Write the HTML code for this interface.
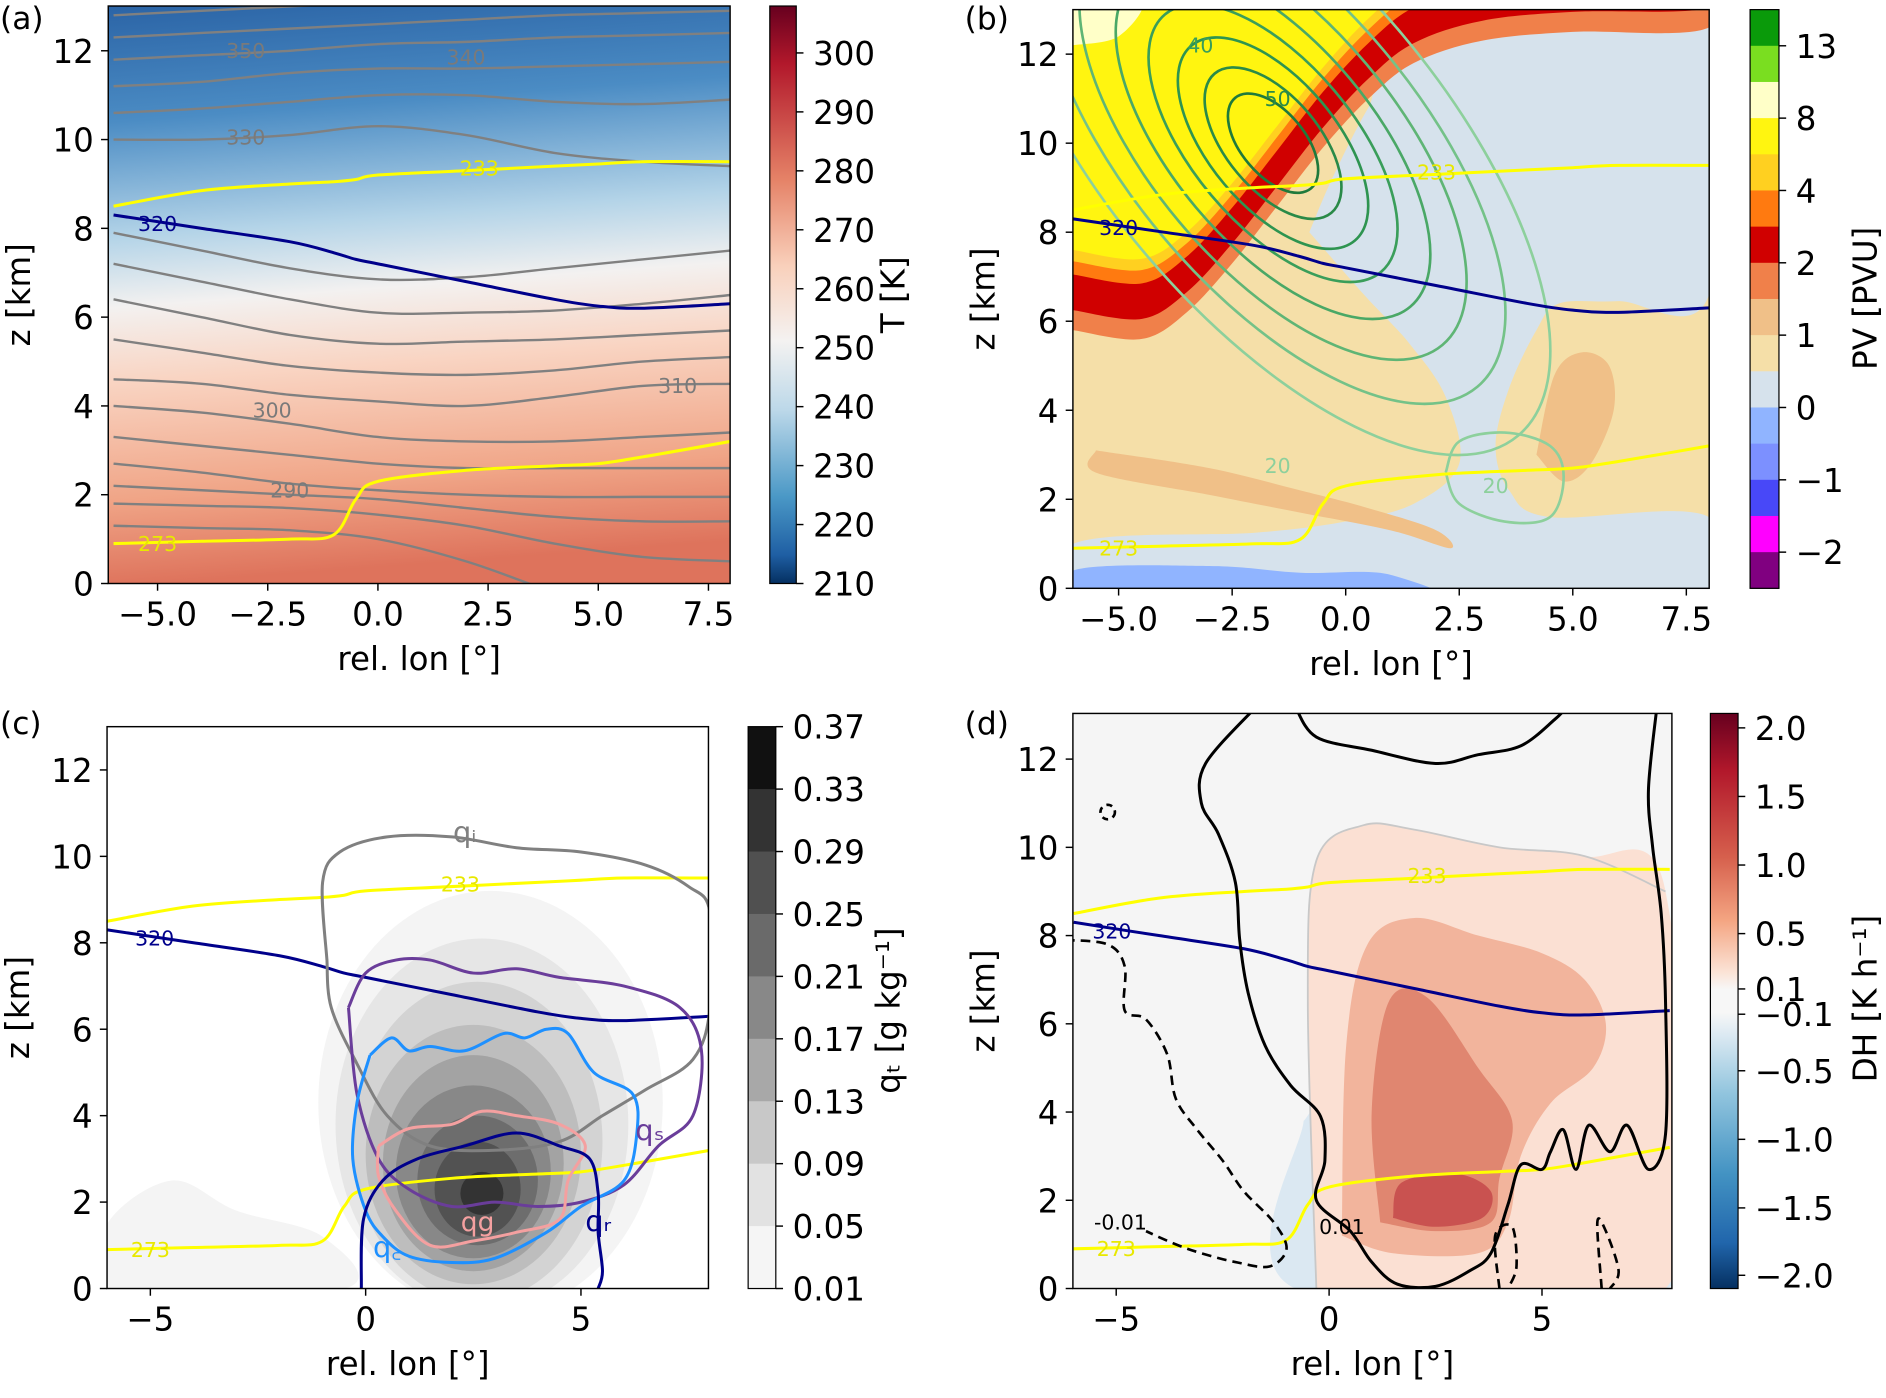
<!DOCTYPE html>
<html><head><meta charset="utf-8">
<style>
html,body{margin:0;padding:0;background:#fff;}
svg{display:block;font-family:"DejaVu Sans","Liberation Sans",sans-serif;}
</style></head>
<body>
<svg id="fig" xmlns="http://www.w3.org/2000/svg" width="1886" height="1398" viewBox="0 0 1568 1162" preserveAspectRatio="none">
<defs>
<linearGradient id="gA" x1="0" y1="0" x2="0.08" y2="1">
<stop offset="0" stop-color="#2b64a6"/><stop offset="0.2" stop-color="#4b8cc4"/><stop offset="0.4" stop-color="#b4d4e8"/><stop offset="0.52" stop-color="#f3f1f0"/><stop offset="0.65" stop-color="#f9d4c2"/><stop offset="0.85" stop-color="#f0a587"/><stop offset="1" stop-color="#de735c"/>
</linearGradient>
<linearGradient id="cbA" x1="0" y1="0" x2="0" y2="1">
<stop offset="0" stop-color="#67001f"/><stop offset="0.1" stop-color="#b2182b"/><stop offset="0.3" stop-color="#e58267"/><stop offset="0.45" stop-color="#f9d0bb"/><stop offset="0.58" stop-color="#f4f2f1"/><stop offset="0.7" stop-color="#bcd8e9"/><stop offset="0.85" stop-color="#4a98c6"/><stop offset="0.95" stop-color="#1f5fa4"/><stop offset="1" stop-color="#053061"/>
</linearGradient>
<linearGradient id="cbD" x1="0" y1="0" x2="0" y2="1">
<stop offset="0" stop-color="#67001f"/><stop offset="0.1" stop-color="#b2182b"/><stop offset="0.25" stop-color="#d6604d"/><stop offset="0.36" stop-color="#f4a582"/><stop offset="0.45" stop-color="#fbe3d6"/><stop offset="0.48" stop-color="#f7f7f7"/><stop offset="0.52" stop-color="#f7f7f7"/><stop offset="0.56" stop-color="#dbe9f2"/><stop offset="0.66" stop-color="#92c5de"/><stop offset="0.8" stop-color="#4393c3"/><stop offset="0.92" stop-color="#2166ac"/><stop offset="1" stop-color="#053061"/>
</linearGradient>
<clipPath id="clipa"><rect x="90" y="5" width="517" height="480"/></clipPath>
<clipPath id="clipb"><rect x="892" y="8" width="529" height="481"/></clipPath>
<clipPath id="clipc"><rect x="89" y="604" width="500" height="467"/></clipPath>
<clipPath id="clipd"><rect x="892" y="593" width="498" height="478"/></clipPath>
</defs>
</svg>
<script>
// ---------- shared data ----------
const lonGrid = [-6,-4,-2,-1,-0.5,0,2,4,5,6,8];
const z233 = [8.5,8.85,9.0,9.05,9.1,9.2,9.3,9.4,9.45,9.5,9.5];
const z273 = [0.9,0.95,1.0,1.1,1.9,2.3,2.55,2.65,2.7,2.85,3.2];
const z320 = [8.3,8.0,7.7,7.45,7.3,7.2,6.8,6.4,6.25,6.2,6.3];
// panel a isentropes (z at lonA)
const lonA = [-6,-4,-2,0,2,4,6,8];
const thetaLines = [
 [1.3,1.25,1.2,1.0,0.5,-0.2,-0.8,-1],
 [1.8,1.75,1.7,1.55,1.3,0.9,0.6,0.5],
 [2.2,2.1,2.0,1.9,1.7,1.5,1.4,1.4],
 [2.7,2.5,2.25,2.1,2.0,1.95,1.95,1.95],
 [3.3,3.1,2.9,2.7,2.6,2.6,2.6,2.6],
 [4.0,3.85,3.6,3.3,3.2,3.2,3.3,3.4],
 [4.6,4.5,4.25,4.1,4.0,4.2,4.45,4.5],
 [5.5,5.2,4.9,4.75,4.7,4.8,5.0,5.1],
 [6.4,6.0,5.6,5.4,5.45,5.5,5.6,5.7],
 [7.2,6.8,6.4,6.1,6.1,6.15,6.3,6.5],
 [7.9,7.5,7.1,6.85,6.9,7.1,7.3,7.5],
 [10.0,10.0,10.1,10.3,10.1,9.7,9.5,9.4],
 [10.6,10.7,10.85,11.0,11.0,10.85,10.8,10.9],
 [11.2,11.3,11.5,11.6,11.6,11.65,11.7,11.75],
 [11.8,11.9,12.0,12.15,12.2,12.3,12.35,12.4],
 [12.3,12.4,12.5,12.6,12.7,12.8,12.85,12.9],
 [12.8,12.9,13.0,13.1,13.2,13.3,13.3,13.3]
];
const thetaLabels = [["350",-3.0,12.0],["340",2.0,11.85],["330",-3.0,10.05],["310",6.8,4.45],["300",-2.4,3.9],["290",-2.0,2.1]];
// panel b
const pvBandCurve = [[-6,5.8],[-4.5,5.6],[-3.5,6.2],[-2.5,7.3],[-1.5,8.6],[-0.5,9.9],[0.5,11.0],[1.5,11.8],[3,12.3],[5,12.5],[8,12.6]];
const pvBandShift = [0,0.45,1.25,1.55,1.8];
const pvBandColors = ["#f0804a","#d00000","#ff7a10","#ffd020","#fff510"];
const pvBlue = [[-0.8,8.0],[-0.3,9.2],[0.5,10.8],[1.5,12.3],[8,12.6],[8,6.6],[6,6.45],[4.7,6.4],[4.2,5.8],[3.6,4.5],[3.3,3.2],[3.6,2.2],[4.5,1.6],[8,1.6],[8,-0.5],[-6,-0.5],[-6,1.0],[-2,1.25],[0,1.5],[1.5,1.9],[2.5,2.8],[2.2,4.3],[1.4,5.5],[0.4,6.6]];
const pvStreak = [[-5.5,3.1],[-3,2.7],[-1,2.2],[0.5,1.8],[2,1.3],[2.3,0.9],[1,1.3],[-1,1.7],[-3,2.1],[-5.5,2.6]];
const pvBlob = [[4.2,3.0],[4.6,4.8],[5.2,5.3],[5.8,5.0],[5.9,4.0],[5.4,2.8],[4.8,2.4]];
const pvLowBlue = [[-6,-0.5],[-6,0.4],[-3,0.5],[-1,0.35],[1,0.3],[2,-0.5]];
const windLevels = [55,50,45,40,35,30,25,20];
const windRx = [1.3,2.0,2.8,3.7,4.7,5.8,7.0,8.4];
const windRy = [1.3,1.9,2.6,3.3,4.1,5.0,5.9,6.9];
const windColors = ["#1f7a3c","#2a8a48","#2e9450","#3a9e5a","#4aa866","#5fb575","#74c288","#8dd09c"];
// panel c
const qtLevels = [0.01,0.05,0.09,0.13,0.17,0.21,0.25,0.29,0.33];
const qtColors = ["#f4f4f4","#e6e6e6","#d3d3d3","#bdbdbd","#a3a3a3","#888888","#6d6d6d","#525252","#333333"];
const qtCx = [2.9,2.7,2.6,2.5,2.5,2.5,2.6,2.6,2.7];
const qtCz = [4.3,3.8,3.4,3.1,2.9,2.7,2.5,2.3,2.2];
const qtRx = [4.0,3.4,2.9,2.5,2.1,1.8,1.4,1.0,0.5];
const qtRz = [4.9,4.3,3.7,3.0,2.5,2.0,1.5,1.1,0.5];
const qi = [[-0.9,7.6],[-1.0,9.4],[-0.6,10.1],[0.5,10.45],[2,10.45],[3.5,10.2],[5,10.1],[6.5,9.8],[7.5,9.3],[8,8.7],[8,6.5],[7.6,5.3],[6.5,4.6],[5.5,4.0],[4.5,3.4],[3,3.2],[1.5,3.3],[0.5,4.0],[-0.2,5.2],[-0.8,6.5],[-0.9,7.6]];
const qs = [[-0.4,6.5],[0,7.3],[0.7,7.6],[1.5,7.6],[2.5,7.3],[3.5,7.4],[4.5,7.2],[6,7.0],[7.3,6.5],[7.8,5.5],[7.6,4.0],[6.8,3.3],[6,2.4],[5,2.0],[4,1.9],[3,2.0],[2,1.9],[1,2.3],[0.3,3.0],[-0.2,4.5],[-0.4,6.5]];
const qc = [[0.1,5.4],[0.6,5.8],[1.0,5.5],[1.5,5.6],[2.3,5.5],[3.2,5.9],[3.7,5.8],[4.2,6.0],[4.7,5.9],[5.3,5.0],[6.2,4.5],[6.3,3.6],[6,2.5],[5,1.9],[4.2,1.3],[3,0.7],[2,0.6],[1,0.75],[0.4,1.2],[0,1.8],[-0.3,3.0],[-0.2,4.3],[0.1,5.4]];
const qg = [[0.3,3.3],[1,3.7],[2,3.8],[2.7,4.1],[3.5,4.0],[4.5,3.8],[5.1,3.3],[4.7,2.5],[4.5,1.6],[3.5,1.3],[2.5,1.1],[1.5,1.0],[0.7,1.8],[0.3,2.6],[0.3,3.3]];
const qr = [[-0.1,0],[-0.05,1.6],[0.4,2.5],[1.2,3.0],[2.3,3.3],[3.5,3.6],[4.5,3.3],[5.2,3.0],[5.4,2.2],[5.4,1.3],[5.5,0.4],[5.4,0]];
// panel d
const dhSolid = [[-1.7,13.2],[-2.9,11.9],[-3.0,11.0],[-2.6,10.3],[-2.2,9.2],[-2.1,7.9],[-1.9,6.7],[-1.5,5.5],[-0.9,4.6],[-0.2,3.9],[-0.1,2.9],[-0.3,2.0],[0.5,1.3],[1.0,0.6],[1.6,0.1],[2.5,0.05],[3.3,0.4],[3.8,0.8],[4.2,1.9],[4.5,2.8],[5.0,2.7],[5.2,3.1],[5.5,3.6],[5.8,2.7],[6.1,3.7],[6.6,3.1],[7.0,3.7],[7.5,2.7],[7.9,3.5],[7.9,6.5],[7.8,8.5],[7.6,10.0],[7.5,11.3],[7.7,13.2]];
const dhSolidTop = [[-0.8,13.2],[-0.3,12.5],[1.0,12.2],[2.5,11.9],[3.5,12.1],[4.5,12.3],[5.3,12.9],[5.6,13.2]];
const dhDash = [[-6.2,7.9],[-5.2,7.8],[-4.8,7.3],[-4.8,6.3],[-4.3,6.1],[-3.8,5.3],[-3.6,4.3],[-3.1,3.6],[-2.5,2.9],[-2.0,2.2],[-1.3,1.5],[-1.0,0.9],[-1.4,0.5],[-2.2,0.6],[-3.0,0.8],[-3.6,1.0],[-4.3,1.3]];
const dhDash2 = [[4.0,0],[3.9,1.2],[4.3,1.4],[4.4,0.5],[4.2,0]];
const dhDash3 = [[6.4,0],[6.3,1.5],[6.5,1.3],[6.8,0.4],[6.6,0]];
const dhLight = [[-0.3,0],[-0.5,6.5],[-0.3,9.7],[0.8,10.5],[2,10.4],[4,10.0],[6,9.8],[7.9,9.0],[7.9,0]];
const dhMed = [[0.3,1.2],[0.4,5.5],[0.9,7.8],[2,8.4],[3.5,8.0],[5,7.6],[6,7.0],[6.5,6.0],[6.2,5.0],[5.2,4.2],[4.5,3.0],[4.2,1.5],[3.5,0.8],[1.5,0.8]];
const dhDark = [[1.2,1.5],[1.0,4.0],[1.4,6.5],[2.3,6.6],[3.5,5.0],[4.3,3.8],[4.0,2.5],[3.8,1.5],[2.5,1.3]];
const dhDarker = [[1.5,1.6],[1.7,2.4],[3.0,2.6],[3.8,2.2],[3.6,1.6],[2.5,1.4]];
const dhBlue = [[-0.6,3.8],[0,4.2],[0,1.2],[1.5,0.5],[3.5,0.6],[4.2,2.0],[5,2.8],[6.5,2.3],[7.9,2.8],[7.9,0],[-0.8,0]];

// ---------- helpers ----------
const NS = 'http://www.w3.org/2000/svg';
const svg = document.getElementById('fig');
function mk(tag, attrs, parent) {
  const e = document.createElementNS(NS, tag);
  for (const k in attrs) e.setAttribute(k, attrs[k]);
  (parent || svg).appendChild(e);
  return e;
}
function smooth(pts) {
  if (pts.length < 2) return '';
  let d = 'M' + pts[0][0].toFixed(1) + ',' + pts[0][1].toFixed(1);
  for (let i = 0; i < pts.length - 1; i++) {
    const p0 = pts[i - 1] || pts[i], p1 = pts[i], p2 = pts[i + 1], p3 = pts[i + 2] || p2;
    const c1 = [p1[0] + (p2[0] - p0[0]) / 6, p1[1] + (p2[1] - p0[1]) / 6];
    const c2 = [p2[0] - (p3[0] - p1[0]) / 6, p2[1] - (p3[1] - p1[1]) / 6];
    d += 'C' + c1[0].toFixed(1) + ',' + c1[1].toFixed(1) + ' ' + c2[0].toFixed(1) + ',' + c2[1].toFixed(1) + ' ' + p2[0].toFixed(1) + ',' + p2[1].toFixed(1);
  }
  return d;
}
function txt(x, y, s, size, fill, anchor, parent, rot) {
  const t = mk('text', {x: x, y: y, 'font-size': size, fill: fill || '#000', 'text-anchor': anchor || 'middle'}, parent);
  if (rot) t.setAttribute('transform', 'rotate(' + rot + ' ' + x + ' ' + y + ')');
  t.textContent = s;
  return t;
}
const panels = {
  a: {x0: 90, x1: 607, y0: 5, y1: 485, X: l => 131 + (l + 5) * 36.64, Y: z => 485 - z * 36.9},
  b: {x0: 892, x1: 1421, y0: 8, y1: 489, X: l => 930 + (l + 5) * 37.76, Y: z => 489 - z * 37.0},
  c: {x0: 89, x1: 589, y0: 604, y1: 1071, X: l => 304 + l * 35.8, Y: z => 1071 - z * 35.92},
  d: {x0: 892, x1: 1390, y0: 593, y1: 1071, X: l => 1105 + l * 35.4, Y: z => 1071 - z * 36.67}
};
function proj(P, pts) { return pts.map(p => [P.X(p[0]), P.Y(p[1])]); }
function gridPts(lons, zs) { return lons.map((l, i) => [l, zs[i]]); }
function line(P, g, pts, color, w, name, dash, closed) {
  const p = mk('path', {d: smooth(proj(P, pts)) + (closed ? 'Z' : ''), fill: 'none', stroke: color, 'stroke-width': w, 'stroke-linejoin': 'round'}, g);
  if (dash) p.setAttribute('stroke-dasharray', dash);
  
  
  return p;
}
function area(P, g, pts, color, name) {
  const p = mk('path', {d: smooth(proj(P, pts.concat([pts[0]]))) + 'Z', fill: color, stroke: 'none'}, g);
  
  
  return p;
}
function label(P, g, lon, z, s, color, size) {
  const x = P.X(lon), y = P.Y(z);
  const t = txt(x, y + 6, s, size || 17, color, 'middle', g);
  
  
}
function axes(key, xticks, xfmt, yticks) {
  const P = panels[key];
  const g = mk('g', {});
  
  
  const fr = mk('rect', {x: P.x0, y: P.y0, width: P.x1 - P.x0, height: P.y1 - P.y0, fill: 'none', stroke: '#000', 'stroke-width': 1.2}, g);
  
  
  xticks.forEach(v => {
    const x = P.X(v);
    mk('line', {x1: x, x2: x, y1: P.y1, y2: P.y1 + 6, stroke: '#000', 'stroke-width': 1.2}, g);
    const t = txt(x, P.y1 + 35, xfmt(v), 27, '#000', 'middle', g);
    
    
  });
  yticks.forEach(v => {
    const y = P.Y(v);
    mk('line', {x1: P.x0 - 6, x2: P.x0, y1: y, y2: y, stroke: '#000', 'stroke-width': 1.2}, g);
    const t = txt(P.x0 - 12, y + 10, String(v), 27, '#000', 'end', g);
    
    
  });
  const xl = txt((P.x0 + P.x1) / 2, P.y1 + 72, 'rel. lon [°]', 27, '#000', 'middle', g);
  
  
  const yl = txt(P.x0 - 65, (P.y0 + P.y1) / 2, 'z [km]', 27, '#000', 'middle', g, -90);
  
  
}
function fmtMinus(v, dec) { const s = Math.abs(v).toFixed(dec); return (v < 0 ? '−' : '') + s; }
function refLines(P, g, lab) {
  line(P, g, gridPts(lonGrid, z233), '#ffff00', 2.5, 'isotherm-233');
  line(P, g, gridPts(lonGrid, z273), '#ffff00', 2.5, 'isotherm-273');
  line(P, g, gridPts(lonGrid, z320), '#00008b', 2.5, 'isentrope-320');
  if (lab) {
    label(P, g, lab[0], 9.35, '233', '#e8e800');
    label(P, g, -5.0, 0.9, '273', '#e8e800');
    label(P, g, lab[1], 8.1, '320', '#00008b');
  }
}
function panelLetter(x, y, s) {
  const t = txt(x, y, s, 26, '#000', 'start');
  
  
}
function colorbarTicks(x, w, labels, ys, title, tx, ty) {
  labels.forEach((s, i) => {
    mk('line', {x1: x + w, x2: x + w + 6, y1: ys[i], y2: ys[i], stroke: '#000', 'stroke-width': 1.2});
    const t = txt(x + w + 14, ys[i] + 10, s, 27, '#000', 'start');
    
    
  });
  const t = txt(tx, ty, title, 27, '#000', 'middle', null, -90);
  
  
  return t;
}

// ---------- panel a ----------
(function () {
  const P = panels.a;
  const g = mk('g', {'clip-path': 'url(#clipa)'});
  
  
  const bg = mk('rect', {x: P.x0, y: P.y0, width: P.x1 - P.x0, height: P.y1 - P.y0, fill: 'url(#gA)'}, g);
  
  
  thetaLines.forEach(zs => line(P, g, gridPts(lonA, zs), '#808080', 2, 'isentrope'));
  thetaLabels.forEach(l => label(P, g, l[1], l[2], l[0], '#7a7a7a'));
  refLines(P, g, [2.3, -5.0]);
  axes('a', [-5, -2.5, 0, 2.5, 5, 7.5], v => fmtMinus(v, 1), [0, 2, 4, 6, 8, 10, 12]);
  const cb = mk('rect', {x: 640, y: 5, width: 22, height: 480, fill: 'url(#cbA)', stroke: '#000', 'stroke-width': 1});
  
  
  const tl = ['300', '290', '280', '270', '260', '250', '240', '230', '220', '210'];
  colorbarTicks(640, 22, tl, tl.map(s => 485 - (Number(s) - 210) * 4.9), 'T [K]', 752, 245);
  panelLetter(0, 24, '(a)');
})();

// ---------- panel b ----------
(function () {
  const P = panels.b;
  const g = mk('g', {'clip-path': 'url(#clipb)'});
  
  
  const bg = mk('rect', {x: P.x0, y: P.y0, width: P.x1 - P.x0, height: P.y1 - P.y0, fill: '#f5dfa8'}, g);
  
  
  area(P, g, pvBlue, '#d6e2ec', 'pv-zero-region');
  area(P, g, pvStreak, '#f0c088', 'pv-streak');
  area(P, g, pvBlob, '#f0c088', 'pv-blob');
  area(P, g, pvLowBlue, '#90b4ff', 'pv-negative-strip');
  pvBandShift.forEach((s, i) => {
    const pts = pvBandCurve.map(p => [p[0], p[1] + s]).concat([[8, 14], [-7, 14], [-7, pvBandCurve[0][1] + s]]);
    area(P, g, pts, pvBandColors[i], 'pv-band');
  });
  area(P, g, [[-6, 12.2], [-5, 12.4], [-4.5, 13.2], [-6, 13.2]], '#ffffc8', 'pv-high-region');
  windLevels.forEach((lv, i) => {
    const cx = P.X(-1.6), cy = P.Y(10.0);
    const e = mk('ellipse', {cx: cx, cy: cy, rx: windRx[i] * 37.76, ry: windRy[i] * 37.0 * 0.55, fill: 'none', stroke: windColors[i], 'stroke-width': 2.2, transform: 'rotate(50 ' + cx + ' ' + cy + ')'}, g);
    
    
  });
  line(P, g, [[2.2, 2.6], [2.5, 3.3], [3.5, 3.5], [4.5, 3.2], [4.8, 2.5], [4.5, 1.6], [3.5, 1.5], [2.5, 1.9], [2.2, 2.6]], '#8dd09c', 2.2, 'wind-contour-20-low');
  label(P, g, -3.2, 12.2, '40', '#3a9e5a');
  label(P, g, -1.5, 11.0, '50', '#2a8a48');
  label(P, g, -1.5, 2.75, '20', '#8dd09c');
  label(P, g, 3.3, 2.3, '20', '#8dd09c');
  refLines(P, g, [2.0, -5.0]);
  axes('b', [-5, -2.5, 0, 2.5, 5, 7.5], v => fmtMinus(v, 1), [0, 2, 4, 6, 8, 10, 12]);
  const cols = ['#0a9a0a', '#7ade20', '#ffffc8', '#fff510', '#ffd020', '#ff7a10', '#d00000', '#f0804a', '#f0c088', '#f5dfa8', '#d6e2ec', '#90b4ff', '#7c90ff', '#4848f8', '#ff00ff', '#800080'];
  const h = 481 / cols.length;
  cols.forEach((c, i) => {
    const r = mk('rect', {x: 1455, y: 8 + i * h, width: 24, height: h + 0.5, fill: c});
    
    
  });
  mk('rect', {x: 1455, y: 8, width: 24, height: 481, fill: 'none', stroke: '#000', 'stroke-width': 1});
  const tl = ['13', '8', '4', '2', '1', '0', '−1', '−2'];
  colorbarTicks(1455, 24, tl, tl.map((s, i) => 8 + h * (1 + 2 * i)), 'PV [PVU]', 1560, 248);
  panelLetter(802, 24, '(b)');
})();

// ---------- panel c ----------
(function () {
  const P = panels.c;
  const g = mk('g', {'clip-path': 'url(#clipc)'});
  
  
  mk('rect', {x: P.x0, y: P.y0, width: P.x1 - P.x0, height: P.y1 - P.y0, fill: '#ffffff'}, g);
  qtLevels.forEach((lv, i) => {
    const e = mk('ellipse', {cx: P.X(qtCx[i]), cy: P.Y(qtCz[i]), rx: qtRx[i] * 35.8, ry: qtRz[i] * 35.92, fill: qtColors[i]}, g);
    
    
  });
  area(P, g, [[-6, 0], [-6, 1.5], [-4.5, 2.5], [-3, 1.8], [-1, 1.2], [-0.5, 0]], '#f4f4f4', 'qt-low-left');
  refLines(P, g, [2.2, -4.9]);
  line(P, g, qi, '#808080', 2.5, 'contour-qi');
  line(P, g, qs, '#6a3d9a', 2.5, 'contour-qs');
  line(P, g, qc, '#1e90ff', 2.5, 'contour-qc');
  line(P, g, qg, '#f4a0a0', 2.5, 'contour-qg');
  line(P, g, qr, '#00008b', 2.5, 'contour-qr');
  label(P, g, 2.3, 10.5, 'qᵢ', '#808080', 24);
  label(P, g, 6.6, 3.6, 'qₛ', '#6a3d9a', 24);
  label(P, g, 0.5, 0.9, 'q꜀', '#1e90ff', 24);
  label(P, g, 2.6, 1.5, 'qg', '#f4a0a0', 22);
  label(P, g, 5.4, 1.5, 'qᵣ', '#00008b', 24);
  axes('c', [-5, 0, 5], v => fmtMinus(v, 0), [0, 2, 4, 6, 8, 10, 12]);
  const cols = ['#111111', '#333333', '#505050', '#6a6a6a', '#888888', '#a8a8a8', '#c8c8c8', '#e2e2e2', '#f5f5f5'];
  const h = 467 / cols.length;
  cols.forEach((c, i) => {
    const r = mk('rect', {x: 622, y: 604 + i * h, width: 23, height: h + 0.5, fill: c});
    
    
  });
  mk('rect', {x: 622, y: 604, width: 23, height: 467, fill: 'none', stroke: '#000', 'stroke-width': 1});
  const tl = ['0.37', '0.33', '0.29', '0.25', '0.21', '0.17', '0.13', '0.09', '0.05', '0.01'];
  colorbarTicks(622, 23, tl, tl.map((s, i) => 604 + h * i), 'qₜ [g kg⁻¹]', 748, 840);
  panelLetter(0, 610, '(c)');
})();

// ---------- panel d ----------
(function () {
  const P = panels.d;
  const g = mk('g', {'clip-path': 'url(#clipd)'});
  
  
  mk('rect', {x: P.x0, y: P.y0, width: P.x1 - P.x0, height: P.y1 - P.y0, fill: '#f5f5f5'}, g);
  area(P, g, dhBlue, '#dbe8f2', 'dh-negative-region');
  area(P, g, dhLight, '#fbe0d3', 'dh-light-region');
  area(P, g, dhMed, '#f2b49c', 'dh-medium-region');
  area(P, g, dhDark, '#e08670', 'dh-strong-region');
  area(P, g, dhDarker, '#c95250', 'dh-strongest-region');
  line(P, g, dhLight.slice(0, 8), '#c8c8c8', 1.5, 'cloud-outline');
  refLines(P, g, [2.3, -5.1]);
  line(P, g, dhSolid, '#000', 2.5, 'dh-contour-0.01');
  line(P, g, dhSolidTop, '#000', 2.5, 'dh-contour-0.01-top');
  line(P, g, dhDash, '#000', 2.2, 'dh-contour-neg-0.01', '8,5');
  line(P, g, dhDash2, '#000', 2.2, 'dh-contour-neg-0.01', '8,5');
  line(P, g, dhDash3, '#000', 2.2, 'dh-contour-neg-0.01', '8,5');
  const c = mk('circle', {cx: P.X(-5.2), cy: P.Y(10.8), r: 6, fill: 'none', stroke: '#000', 'stroke-width': 2.2, 'stroke-dasharray': '5,4'}, g);
  
  
  label(P, g, -4.9, 1.5, '-0.01', '#000');
  label(P, g, 0.3, 1.4, '0.01', '#000');
  axes('d', [-5, 0, 5], v => fmtMinus(v, 0), [0, 2, 4, 6, 8, 10, 12]);
  const cb = mk('rect', {x: 1422, y: 593, width: 23, height: 478, fill: 'url(#cbD)', stroke: '#000', 'stroke-width': 1});
  
  
  const tl = ['2.0', '1.5', '1.0', '0.5', '0.1', '−0.1', '−0.5', '−1.0', '−1.5', '−2.0'];
  const ys = [605, 662, 719, 776, 822, 843, 890, 947, 1004, 1060];
  colorbarTicks(1422, 23, tl, ys, 'DH [K h⁻¹]', 1560, 830);
  panelLetter(802, 610, '(d)');
})();
</script>
</body></html>
